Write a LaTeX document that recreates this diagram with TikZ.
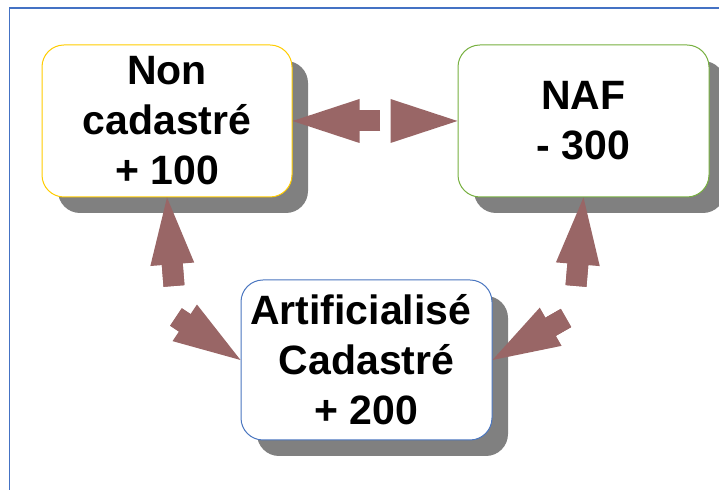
\documentclass[tikz,border=0pt]{standalone}
\usepackage{fontspec}
\setmainfont{Liberation Sans}
\usepackage{tikz}
\usetikzlibrary{arrows.meta,shadows}
\definecolor{framecol}{RGB}{68,114,196}
\definecolor{yellowline}{RGB}{255,204,0}
\definecolor{greenline}{RGB}{119,176,64}
\definecolor{blueline}{RGB}{74,118,192}
\definecolor{arrowfill}{RGB}{153,102,102}
\definecolor{shadowgray}{RGB}{128,128,128}
\tikzset{
  landbox/.style={
    draw,
    fill=white,
    line width=0.5pt,
    rounded corners=11pt,
    align=center,
    inner sep=2pt,
    minimum width=125pt,
    minimum height=76pt,
    font=\fontsize{20.5}{25}\selectfont\bfseries,
    general shadow={fill=shadowgray, shadow xshift=8pt, shadow yshift=-8pt}
  },
  flow/.style={
    arrowfill,
    line width=10.5pt,
    -{Triangle[length=33.5pt 0 0, width=22pt 0 0, line width=0pt]},
    postaction={draw, -, arrowfill, line width=10.5pt, shorten >=31pt}
  },
  frameline/.style={framecol, line width=0.7pt}
}

\begin{document}
\begin{tikzpicture}[x=0.5pt,y=-0.5pt]
    \useasboundingbox (0,0) rectangle (719,490);

    % page frame
    \draw[frameline] (9.5,490) -- (9.5,8) -- (719,8);

    \node[landbox, draw=yellowline] (noncad) at (167,121) {Non\\cadastré\\+ 100};
    \node[landbox, draw=greenline, minimum width=125.5pt] (naf) at (583.5,121) {NAF\\- 300};
    \node[landbox, draw=blueline, minimum width=125.5pt, minimum height=80pt] (artif) at (366.5,360)
      {Artificialisé\ \mbox{}\\Cadastré\\+ 200};

    \coordinate (tailtonon) at (380,121);
    \coordinate (tailtonaf) at (391,121);
    \coordinate (tailup) at (174,286);
    \coordinate (tailleft) at (176,317);
    \coordinate (tailupnaf) at (576,286);
    \coordinate (tailright) at (566,318);

    \draw[flow] (tailtonon) -- (noncad.east);
    \draw[flow] (tailtonaf) -- (naf.west);
    \draw[flow] (tailup) -- (noncad.south);
    \draw[flow] (tailleft) -- (artif.west);
    \draw[flow] (tailupnaf) -- (naf.south);
    \draw[flow] (tailright) -- (artif.east);
\end{tikzpicture}
\end{document}
